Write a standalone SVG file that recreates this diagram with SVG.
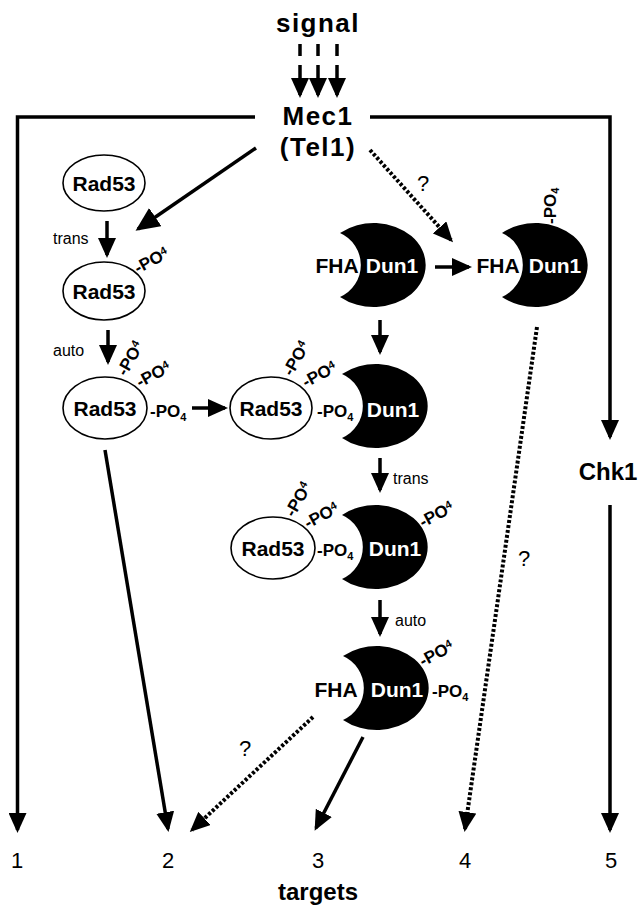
<svg xmlns="http://www.w3.org/2000/svg" xmlns:xlink="http://www.w3.org/1999/xlink" width="641" height="910" viewBox="0 0 641 910">
  <style>
    .bold { font-family: "Liberation Sans", Arial, sans-serif; font-weight: bold; fill: #000; }
    .reg { font-family: "Liberation Sans", Arial, sans-serif; fill: #000; }
    .big { font-size: 26px; letter-spacing: 1.5px; }
    .name { font-size: 21px; }
    .white { fill: #fff; }
    .po { font-family: "Liberation Sans", Arial, sans-serif; font-weight: bold; font-size: 17px; fill: #000; }
    .sub { font-size: 11px; }
    .lbl { font-size: 16px; }
    .num { font-size: 22px; }
    .line { stroke: #000; stroke-width: 3.5; fill: none; }
    .dot { stroke: #000; stroke-width: 4; fill: none; stroke-dasharray: 3 2; }
    .ell { fill: #fff; stroke: #000; stroke-width: 1.6; }
    .crescent { fill: #000; }
  </style>
  <defs>
    <marker id="head" viewBox="0 0 20 18" refX="17" refY="9" markerWidth="20" markerHeight="18" markerUnits="userSpaceOnUse" orient="auto">
      <path d="M0,0 L20,9 L0,18 Z" fill="#000"/>
    </marker>
    <marker id="headL" viewBox="0 0 24 22" refX="21" refY="11" markerWidth="24" markerHeight="22" markerUnits="userSpaceOnUse" orient="auto">
      <path d="M0,0 L24,11 L0,22 Z" fill="#000"/>
    </marker>
    <!-- Dun1 kinase: dark body with the FHA pocket bitten out on the left -->
    <path id="dun1" class="crescent" d="M-33,-32 A52 42 0 1 1 -33,32 A35 35 0 0 0 -33,-32 Z"/>
  </defs>

  <rect width="641" height="910" fill="#fff"/>

  <!-- connectors -->
  <g id="connectors">
    <!-- incoming signal -->
    <line class="line" x1="300" y1="44" x2="300" y2="56"/>
    <line class="line" x1="318" y1="44" x2="318" y2="56"/>
    <line class="line" x1="337" y1="44" x2="337" y2="56"/>
    <line class="line" x1="300" y1="65" x2="300" y2="95" marker-end="url(#head)"/>
    <line class="line" x1="318" y1="65" x2="318" y2="95" marker-end="url(#head)"/>
    <line class="line" x1="337" y1="65" x2="337" y2="95" marker-end="url(#head)"/>

    <!-- Mec1 to target 1 -->
    <path class="line" d="M255,117 H17.5 V830" marker-end="url(#head)"/>
    <!-- Mec1 to Chk1 -->
    <path class="line" d="M370,117 H610 V437" marker-end="url(#head)"/>
    <!-- Chk1 to target 5 -->
    <line class="line" x1="610" y1="505" x2="610" y2="830" marker-end="url(#head)"/>

    <!-- Mec1 to Rad53 -->
    <line class="line" x1="256" y1="148" x2="138" y2="229" marker-end="url(#headL)"/>
    <!-- Mec1 to Dun1 (uncertain) -->
    <line class="dot" x1="370" y1="150" x2="451" y2="240" marker-end="url(#head)"/>

    <!-- Rad53 activation steps -->
    <line class="line" x1="107" y1="221" x2="107" y2="255" marker-end="url(#head)"/>
    <line class="line" x1="108" y1="330" x2="108" y2="362" marker-end="url(#head)"/>
    <line class="line" x1="192" y1="408" x2="225" y2="408" marker-end="url(#head)"/>

    <!-- Dun1 steps -->
    <line class="line" x1="435" y1="267" x2="469" y2="267" marker-end="url(#head)"/>
    <line class="line" x1="380" y1="320" x2="380" y2="352" marker-end="url(#head)"/>
    <line class="line" x1="380" y1="458" x2="380" y2="490" marker-end="url(#head)"/>
    <line class="line" x1="380" y1="600" x2="380" y2="634" marker-end="url(#head)"/>

    <!-- outputs to targets -->
    <line class="line" x1="105" y1="450" x2="168" y2="829" marker-end="url(#head)"/>
    <line class="dot" x1="313" y1="717" x2="192" y2="830" marker-end="url(#head)"/>
    <line class="line" x1="363" y1="737" x2="316" y2="828" marker-end="url(#head)"/>
    <line class="dot" x1="537" y1="327" x2="465" y2="829" marker-end="url(#head)"/>
  </g>

  <!-- question marks and step labels -->
  <g id="labels">
    <text class="reg num" x="423" y="191" text-anchor="middle">?</text>
    <text class="reg num" x="245" y="756" text-anchor="middle">?</text>
    <text class="reg num" x="524" y="566" text-anchor="middle">?</text>
    <text class="reg lbl" x="53" y="244">trans</text>
    <text class="reg lbl" x="53" y="356">auto</text>
    <text class="reg lbl" x="393" y="484">trans</text>
    <text class="reg lbl" x="395" y="626">auto</text>
  </g>

  <g id="signal">
    <text class="bold big" x="318" y="32" text-anchor="middle">signal</text>
  </g>

  <g id="mec1">
    <text class="bold big" x="318" y="125" text-anchor="middle">Mec1</text>
    <text class="bold big" x="318" y="156" text-anchor="middle">(Tel1)</text>
  </g>

  <g id="rad53-inactive">
    <ellipse class="ell" cx="104" cy="183" rx="41" ry="28"/>
    <text class="bold name" x="104" y="191" text-anchor="middle">Rad53</text>
  </g>

  <g id="rad53-trans">
    <ellipse class="ell" cx="104" cy="291" rx="41" ry="29"/>
    <text class="bold name" x="104" y="299" text-anchor="middle">Rad53</text>
    <text class="po" transform="translate(138,274) rotate(-28)">-PO<tspan class="sub" dy="-5">4</tspan></text>
  </g>

  <g id="rad53-auto">
    <ellipse class="ell" cx="105" cy="408" rx="42" ry="31"/>
    <text class="bold name" x="105" y="416" text-anchor="middle">Rad53</text>
    <text class="po" transform="translate(126,377) rotate(-60)">-PO<tspan class="sub" dy="-5">4</tspan></text>
    <text class="po" transform="translate(140,388) rotate(-28)">-PO<tspan class="sub" dy="-5">4</tspan></text>
    <text class="po" x="150" y="417">-PO<tspan class="sub" dy="4">4</tspan></text>
  </g>

  <g id="dun1-inactive">
    <use xlink:href="#dun1" x="373" y="265"/>
    <text class="bold name" x="337" y="273" text-anchor="middle">FHA</text>
    <text class="bold name white" x="392" y="273" text-anchor="middle">Dun1</text>
  </g>

  <g id="dun1-direct">
    <use xlink:href="#dun1" x="535" y="265"/>
    <text class="bold name" x="498" y="273" text-anchor="middle">FHA</text>
    <text class="bold name white" x="555" y="273" text-anchor="middle">Dun1</text>
    <text class="po" transform="translate(556,224) rotate(-90)">-PO<tspan class="sub" dy="3">4</tspan></text>
  </g>

  <g id="complex">
    <use xlink:href="#dun1" x="375" y="406"/>
    <ellipse class="ell" cx="271" cy="408" rx="41" ry="31"/>
    <text class="bold name" x="271" y="416" text-anchor="middle">Rad53</text>
    <text class="po" transform="translate(292,377) rotate(-60)">-PO<tspan class="sub" dy="-5">4</tspan></text>
    <text class="po" transform="translate(306,388) rotate(-28)">-PO<tspan class="sub" dy="-5">4</tspan></text>
    <text class="po" x="317" y="417">-PO<tspan class="sub" dy="4">4</tspan></text>
    <text class="bold name white" x="393" y="417" text-anchor="middle">Dun1</text>
  </g>

  <g id="complex-trans">
    <use xlink:href="#dun1" x="375" y="547"/>
    <ellipse class="ell" cx="273" cy="548" rx="42" ry="31"/>
    <text class="bold name" x="273" y="556" text-anchor="middle">Rad53</text>
    <text class="po" transform="translate(294,518) rotate(-60)">-PO<tspan class="sub" dy="-5">4</tspan></text>
    <text class="po" transform="translate(308,529) rotate(-28)">-PO<tspan class="sub" dy="-5">4</tspan></text>
    <text class="po" x="317" y="556">-PO<tspan class="sub" dy="4">4</tspan></text>
    <text class="bold name white" x="395" y="556" text-anchor="middle">Dun1</text>
    <text class="po" transform="translate(423,528) rotate(-28)">-PO<tspan class="sub" dy="-5">4</tspan></text>
  </g>

  <g id="dun1-active">
    <use xlink:href="#dun1" x="376" y="688"/>
    <text class="bold name" x="336" y="697" text-anchor="middle">FHA</text>
    <text class="bold name white" x="397" y="697" text-anchor="middle">Dun1</text>
    <text class="po" transform="translate(423,667) rotate(-28)">-PO<tspan class="sub" dy="-5">4</tspan></text>
    <text class="po" x="432" y="697">-PO<tspan class="sub" dy="4">4</tspan></text>
  </g>

  <g id="chk1">
    <text class="bold" font-size="24" x="608" y="480" text-anchor="middle">Chk1</text>
  </g>

  <g id="targets">
    <text class="reg num" x="17" y="868" text-anchor="middle">1</text>
    <text class="reg num" x="168" y="868" text-anchor="middle">2</text>
    <text class="reg num" x="318" y="868" text-anchor="middle">3</text>
    <text class="reg num" x="465" y="868" text-anchor="middle">4</text>
    <text class="reg num" x="611" y="868" text-anchor="middle">5</text>
    <text class="bold" font-size="24" x="318" y="900" text-anchor="middle">targets</text>
  </g>
</svg>
